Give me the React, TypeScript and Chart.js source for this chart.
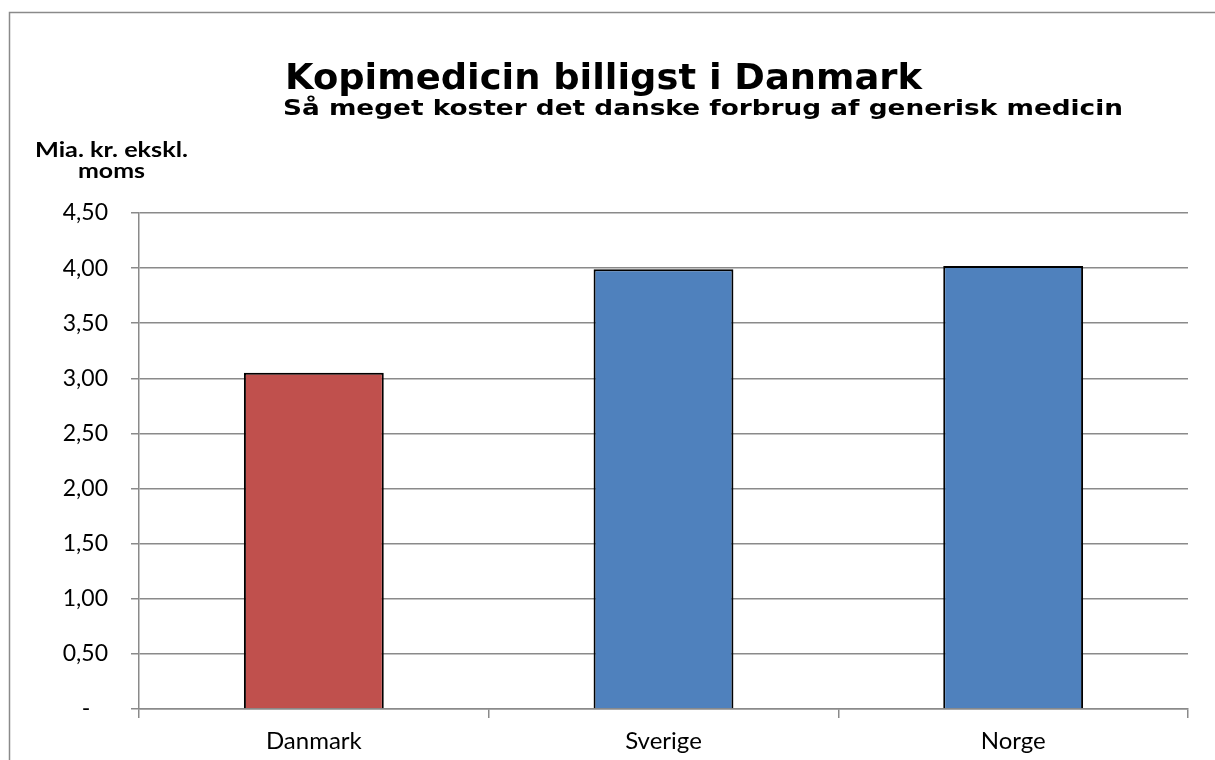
import { useEffect, useRef } from 'react';
import { Chart, registerables } from 'chart.js';

Chart.register(...registerables);

const categories = ['Danmark', 'Sverige', 'Norge'];
const values = [3.05, 3.99, 4.02];
const barColors = ['#C0504D', '#4F81BD', '#4F81BD'];
const titleText = 'Kopimedicin billigst i Danmark';
const subtitleText = 'Så meget koster det danske forbrug af generisk medicin';
const yAxisLabelLines = ['Mia. kr. ekskl.', 'moms'];
const yMin = 0;
const yMax = 4.5;
const yStep = 0.5;

const GRID = '#8a8a8a';
const HEAD_FONT = '"DejaVu Sans"';

// draw text with a given font size, stretched horizontally to a target width
function drawFitted(
  ctx: CanvasRenderingContext2D,
  text: string,
  font: string,
  x: number,
  y: number,
  targetWidth: number,
  align: 'left' | 'center'
) {
  ctx.save();
  ctx.font = font;
  const w = ctx.measureText(text).width;
  const sx = targetWidth / w;
  ctx.translate(x, y);
  ctx.scale(sx, 1);
  ctx.textAlign = align;
  ctx.fillText(text, 0, 0);
  ctx.restore();
}

const decorPlugin = {
  id: 'decor',
  beforeDraw(chart: any) {
    const ctx = chart.ctx as CanvasRenderingContext2D;
    ctx.save();
    ctx.fillStyle = '#ffffff';
    ctx.fillRect(0, 0, chart.width, chart.height);
    ctx.restore();
  },
  afterDraw(chart: any) {
    const ctx = chart.ctx as CanvasRenderingContext2D;
    ctx.save();
    // outer frame
    ctx.strokeStyle = '#8a8a8a';
    ctx.lineWidth = 1.5;
    ctx.strokeRect(9.5, 12.5, 1300, 900);

    ctx.fillStyle = '#000000';
    ctx.textBaseline = 'alphabetic';
    drawFitted(ctx, titleText, `bold 36px ${HEAD_FONT}`, 285, 89, 637, 'left');
    drawFitted(ctx, subtitleText, `bold 22px ${HEAD_FONT}`, 283, 115, 840, 'left');
    drawFitted(ctx, yAxisLabelLines[0], 'bold 21px Lato', 111.5, 157, 153, 'center');
    drawFitted(ctx, yAxisLabelLines[1], 'bold 21px Lato', 111.5, 178, 67, 'center');
    ctx.restore();
  },
};

export default function App() {
  const ref = useRef<HTMLCanvasElement | null>(null);

  useEffect(() => {
    if (!ref.current) return;
    const chart = new Chart(ref.current, {
      type: 'bar',
      data: {
        labels: categories,
        datasets: [
          {
            data: values,
            backgroundColor: barColors,
            borderColor: '#000000',
            borderWidth: 2,
            categoryPercentage: 0.8,
            barPercentage: 0.5,
          },
        ],
      },
      options: {
        animation: false,
        responsive: true,
        maintainAspectRatio: false,
        layout: { padding: { top: 213, right: 27, bottom: 0, left: 0 } },
        plugins: {
          legend: { display: false },
          tooltip: { enabled: false },
          title: { display: false },
        },
        scales: {
          x: {
            type: 'category',
            offset: true,
            grid: {
              offset: true,
              drawOnChartArea: false,
              drawTicks: true,
              tickLength: 9,
              color: GRID,
              lineWidth: 1.5,
            },
            border: { display: true, color: GRID, width: 1.5 },
            ticks: {
              color: '#000000',
              font: { family: 'Lato', size: 24 },
              padding: 9,
            },
            afterFit: (s: any) => {
              s.height = 51;
            },
          },
          y: {
            min: yMin,
            max: yMax,
            ticks: {
              stepSize: yStep,
              color: '#000000',
              font: { family: 'Lato', size: 23 },
              padding: 23,
              callback: (v: any) => (Number(v) === 0 ? '-   ' : Number(v).toFixed(2).replace('.', ',')),
            },
            grid: {
              color: GRID,
              lineWidth: 1.5,
              drawTicks: true,
              tickLength: 8,
            },
            border: { display: true, color: GRID, width: 1.5 },
            afterFit: (s: any) => {
              s.width = 139;
            },
          },
        },
      },
      plugins: [decorPlugin],
    });
    return () => chart.destroy();
  }, []);

  return (
    <div style={{ position: 'absolute', left: 0, top: 0, width: 1215, height: 760 }}>
      <canvas ref={ref} />
    </div>
  );
}
